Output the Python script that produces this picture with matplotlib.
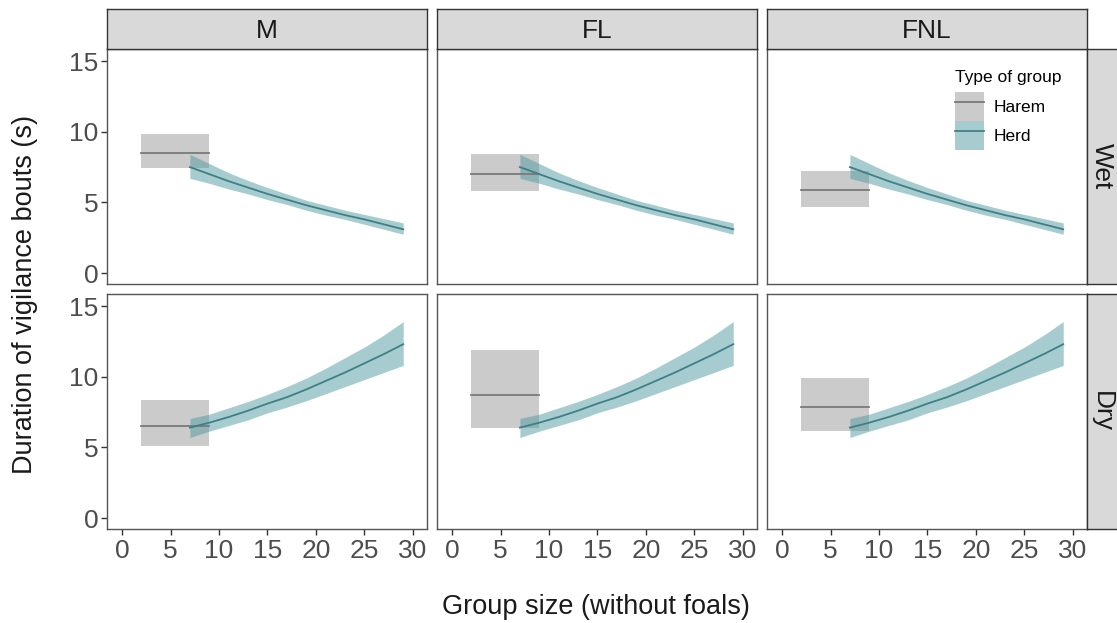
import numpy as np
import matplotlib
matplotlib.use("Agg")
import matplotlib.pyplot as plt
from matplotlib.patches import Patch
from matplotlib.lines import Line2D

plt.rcParams['font.family'] = ['Liberation Sans', 'DejaVu Sans']

# facets
categories = ['M', 'FL', 'FNL']
seasons = ['Wet', 'Dry']

# harem: constant mean with CI, spanning group sizes 2..9
harem_x = [2, 9]
harem_fit = {'Wet': [8.5, 7.0, 5.85], 'Dry': [6.5, 8.7, 7.85]}
harem_lo = {'Wet': [7.4, 5.8, 4.7], 'Dry': [5.1, 6.4, 6.15]}
harem_hi = {'Wet': [9.85, 8.45, 7.2], 'Dry': [8.35, 11.9, 9.9]}

# herd: fitted curve with CI (same in every column)
herd_x = [7, 9, 11, 13, 15, 17, 19, 21, 23, 25, 27, 29]
herd_fit = {
    'Wet': [7.5, 7.0, 6.5, 6.05, 5.6, 5.2, 4.8, 4.45, 4.1, 3.8, 3.45, 3.1],
    'Dry': [6.4, 6.75, 7.15, 7.6, 8.1, 8.55, 9.1, 9.7, 10.3, 10.95, 11.6, 12.3],
}
herd_lo = {
    'Wet': [6.7, 6.35, 5.95, 5.6, 5.2, 4.85, 4.45, 4.1, 3.8, 3.45, 3.1, 2.75],
    'Dry': [5.7, 6.15, 6.55, 6.95, 7.45, 7.85, 8.3, 8.8, 9.3, 9.8, 10.3, 10.8],
}
herd_hi = {
    'Wet': [8.4, 7.75, 7.1, 6.55, 6.05, 5.6, 5.15, 4.8, 4.45, 4.15, 3.85, 3.55],
    'Dry': [7.05, 7.35, 7.8, 8.25, 8.75, 9.3, 9.9, 10.6, 11.35, 12.1, 12.95, 13.9],
}

x_ticks = [0, 5, 10, 15, 20, 25, 30]
y_ticks = [0, 5, 10, 15]

harem_line = '#7a7a7a'
harem_fill = '#999999'
herd_line = '#3f7f86'
herd_fill = '#4e9aa3'
border = '#555555'
strip_bg = '#d9d9d9'
tick_col = '#4d4d4d'

W, H = 1117, 623
fig = plt.figure(figsize=(W / 100, H / 100), dpi=100)

col_left = [107, 437, 767]
panel_w = 320
row_top = [49, 294]
panel_h = 235


def fig_rect(x0, y0, w, h):
    return [x0 / W, 1 - (y0 + h) / H, w / W, h / H]


axes = {}
for r, season in enumerate(seasons):
    for c, cat in enumerate(categories):
        ax = fig.add_axes(fig_rect(col_left[c], row_top[r], panel_w, panel_h))
        axes[(r, c)] = ax
        ax.fill_between(harem_x, [harem_lo[season][c]] * 2, [harem_hi[season][c]] * 2,
                        color=harem_fill, alpha=0.5, lw=0)
        ax.plot(harem_x, [harem_fit[season][c]] * 2, color=harem_line, lw=1.3)
        ax.fill_between(herd_x, herd_lo[season], herd_hi[season],
                        color=herd_fill, alpha=0.5, lw=0)
        ax.plot(herd_x, herd_fit[season], color=herd_line, lw=1.3)

        ax.set_xlim(-1.55, 31.45)
        ax.set_ylim(-0.77, 15.85)
        ax.set_xticks(x_ticks)
        ax.set_yticks(y_ticks)
        for s in ax.spines.values():
            s.set_color(border)
            s.set_linewidth(1.0)
        ax.tick_params(colors='#333333', labelcolor=tick_col, labelsize=19,
                       length=4, width=1)
        ax.tick_params(axis='y', pad=2)
        ax.tick_params(axis='x', pad=3)
        if c != 0:
            ax.tick_params(axis='y', left=False, labelleft=False)
        if r != 1:
            ax.tick_params(axis='x', bottom=False, labelbottom=False)

# top strips
for c, cat in enumerate(categories):
    sax = fig.add_axes(fig_rect(col_left[c], 9, panel_w, 40))
    sax.set_facecolor(strip_bg)
    sax.set_xticks([])
    sax.set_yticks([])
    for s in sax.spines.values():
        s.set_color('#333333')
        s.set_linewidth(1.0)
    sax.text(0.5, 0.45, cat, ha='center', va='center', fontsize=19,
             color='#1a1a1a', transform=sax.transAxes)

# right strips
for r, season in enumerate(seasons):
    sax = fig.add_axes(fig_rect(1087, row_top[r], 34, panel_h))
    sax.set_facecolor(strip_bg)
    sax.set_xticks([])
    sax.set_yticks([])
    for s in sax.spines.values():
        s.set_color('#333333')
        s.set_linewidth(1.0)
    sax.text(0.45, 0.5, season, ha='center', va='center', fontsize=19,
             color='#1a1a1a', rotation=-90, transform=sax.transAxes)

# legend inside the top-right panel
handles = [
    (Patch(facecolor=harem_fill, alpha=0.5, lw=0), Line2D([], [], color=harem_line, lw=1.3)),
    (Patch(facecolor=herd_fill, alpha=0.5, lw=0), Line2D([], [], color=herd_line, lw=1.3)),
]
leg = axes[(0, 2)].legend(handles, ['Harem', 'Herd'], title='Type of group',
                          loc='upper left',
                          bbox_to_anchor=((955 - 767) / panel_w, (284 - 70) / panel_h),
                          frameon=False, fontsize=12.5, title_fontsize=12.5,
                          handlelength=1.67, handleheight=2.2, handletextpad=0.55,
                          labelspacing=0.0, alignment='left', borderpad=0.0,
                          borderaxespad=0.0)
leg._legend_box.sep = 5

fig.text(25 / W, 1 - 295 / H, 'Duration of vigilance bouts (s)', rotation=90,
         ha='center', va='center', fontsize=19.5, color='#1a1a1a')
fig.text(596 / W, 1 - 607 / H, 'Group size (without foals)', ha='center',
         va='center', fontsize=19.5, color='#1a1a1a')

fig.savefig('out.png', dpi=100)
